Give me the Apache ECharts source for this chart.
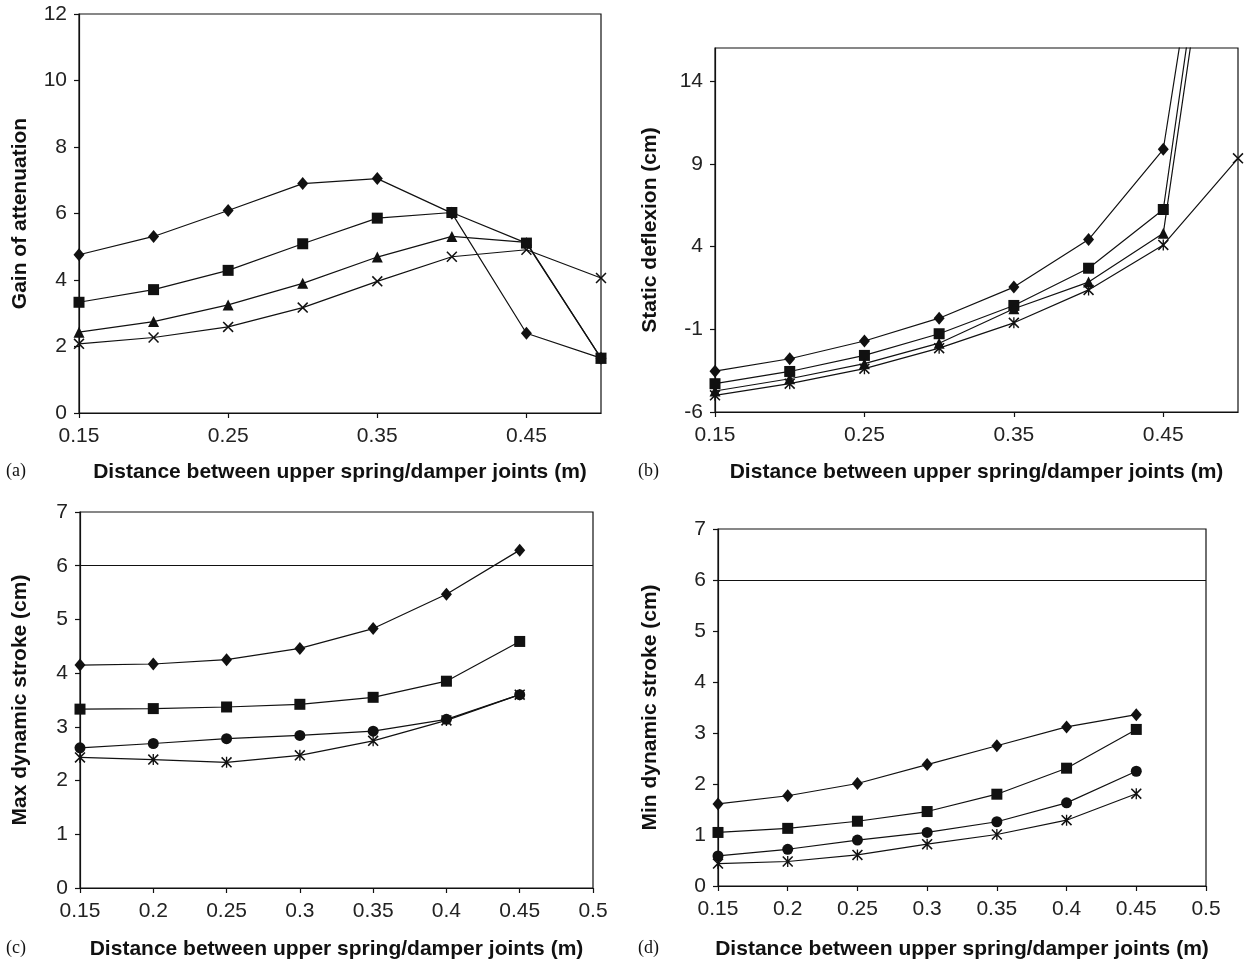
<!DOCTYPE html>
<html>
<head>
<meta charset="utf-8">
<script src="https://cdn.jsdelivr.net/npm/echarts@6/dist/echarts.min.js"></script>
<style>
  html, body { margin: 0; padding: 0; background: #fff; }
  #chart { width: 1253px; height: 964px; }
</style>
</head>
<body>
<div id="chart"></div>
<script>
// x positions (m), shared by all four panels
const xCats = ['0.15', '0.2', '0.25', '0.3', '0.35', '0.4', '0.45', '0.5'];

// (a) gain of attenuation
const gainDiamond = [4.76, 5.31, 6.09, 6.90, 7.05, 6.01, 2.40, 1.65];
const gainSquare = [3.33, 3.71, 4.29, 5.09, 5.86, 6.03, 5.11, 1.65];
const gainTriangle = [2.43, 2.75, 3.25, 3.90, 4.69, 5.31, 5.13, 1.65];
const gainCross = [2.08, 2.27, 2.59, 3.17, 3.96, 4.70, 4.91, 4.06];

// (b) static deflexion (cm), last points run off the top
const deflDiamond = [-3.53, -2.78, -1.71, -0.33, 1.55, 4.42, 9.88, 38.5];
const deflSquare = [-4.29, -3.55, -2.58, -1.27, 0.44, 2.69, 6.24, 37.9];
const deflTriangle = [-4.73, -3.99, -3.08, -1.84, 0.24, 1.85, 4.80, 35.8];
const deflStar = [-4.99, -4.29, -3.38, -2.14, -0.61, 1.38, 4.10, 9.33];

// (c) max dynamic stroke (cm)
const maxDiamond = [4.15, 4.17, 4.25, 4.46, 4.83, 5.47, 6.29];
const maxSquare = [3.33, 3.34, 3.37, 3.42, 3.55, 3.85, 4.59];
const maxCircle = [2.61, 2.69, 2.78, 2.84, 2.92, 3.14, 3.60];
const maxStar = [2.43, 2.39, 2.34, 2.47, 2.74, 3.12, 3.60];

// (d) min dynamic stroke (cm)
const minDiamond = [1.61, 1.77, 2.01, 2.38, 2.75, 3.12, 3.36];
const minSquare = [1.05, 1.13, 1.27, 1.46, 1.80, 2.31, 3.07];
const minCircle = [0.59, 0.72, 0.90, 1.05, 1.26, 1.63, 2.25];
const minStar = [0.44, 0.48, 0.61, 0.82, 1.01, 1.29, 1.81];

const strokeLimit = 6;

const xTitle = 'Distance between upper spring/damper joints (m)';
const ink = '#111';
const sansFont = '"Liberation Sans", Arial, sans-serif';

const crossPath = 'path://M0,1L1,0L5,4L9,0L10,1L6,5L10,9L9,10L5,6L1,10L0,9L4,5Z';
const starPath = 'path://M0,1L1,0L5,4L9,0L10,1L6,5L10,9L9,10L5,6L1,10L0,9L4,5Z M4.4,0L5.6,0L5.6,10L4.4,10Z';

function makeGrid(left, top, width, height) {
  return { left, top, width, height, show: true, borderColor: ink, borderWidth: 1.2, containLabel: false };
}

function makeX(idx, skip, gap) {
  return {
    type: 'category',
    gridIndex: idx,
    data: xCats,
    boundaryGap: false,
    name: xTitle,
    nameLocation: 'middle',
    nameGap: gap,
    nameTextStyle: { fontFamily: sansFont, fontWeight: 'bold', fontSize: 21, color: ink },
    axisLine: { onZero: false, lineStyle: { color: ink, width: 1.2 } },
    axisTick: { show: true, interval: skip, length: 5, lineStyle: { color: ink, width: 1.2 } },
    axisLabel: { interval: skip, margin: 13, fontFamily: sansFont, fontSize: 21, color: '#222' },
    splitLine: { show: false }
  };
}

function makeY(idx, name, min, max, step, gap) {
  return {
    type: 'value',
    gridIndex: idx,
    min, max, interval: step,
    name,
    nameLocation: 'middle',
    nameGap: gap,
    nameTextStyle: { fontFamily: sansFont, fontWeight: 'bold', fontSize: 21, color: ink },
    axisLine: { show: true, onZero: false, lineStyle: { color: ink, width: 1.2 } },
    axisTick: { show: true, length: 5, lineStyle: { color: ink, width: 1.2 } },
    axisLabel: { margin: 12, fontFamily: sansFont, fontSize: 21, color: '#222', showMaxLabel: (max - min) % step === 0 },
    splitLine: { show: false }
  };
}

function lineSeries(idx, data, symbol, size) {
  return {
    type: 'line',
    xAxisIndex: idx,
    yAxisIndex: idx,
    data,
    symbol,
    symbolSize: size,
    showAllSymbol: true,
    clip: true,
    lineStyle: { color: ink, width: 1.2 },
    itemStyle: { color: ink },
    emphasis: { disabled: true },
    animation: false
  };
}

function limitLine() {
  return {
    silent: true,
    symbol: 'none',
    label: { show: false },
    lineStyle: { color: ink, width: 1.2, type: 'solid' },
    data: [{ yAxis: strokeLimit }]
  };
}

// (b) lowest curve ends with a plain cross at 0.5
const deflStarData = deflStar.map((v, i) => i === deflStar.length - 1 ? { value: v, symbol: crossPath, symbolSize: 11 } : v);

const maxDiamondSeries = lineSeries(2, maxDiamond, 'diamond', [11, 13]);
maxDiamondSeries.markLine = limitLine();
const minDiamondSeries = lineSeries(3, minDiamond, 'diamond', [11, 13]);
minDiamondSeries.markLine = limitLine();

function panelLabel(text, left, top) {
  return {
    type: 'text', left, top,
    style: { text, fontFamily: '"Liberation Serif", "Times New Roman", serif', fontSize: 18, fill: ink }
  };
}

const chart = echarts.init(document.getElementById('chart'), null, { renderer: 'canvas' });
chart.setOption({
  backgroundColor: '#fff',
  animation: false,
  grid: [
    makeGrid(79, 14, 522, 399),
    makeGrid(715, 48, 523, 364),
    makeGrid(80, 512, 513, 376),
    makeGrid(718, 529, 488, 357)
  ],
  xAxis: [
    makeX(0, 1, 49),
    makeX(1, 1, 50),
    makeX(2, 0, 51),
    makeX(3, 0, 53)
  ],
  yAxis: [
    makeY(0, 'Gain of attenuation', 0, 12, 2, 48),
    makeY(1, 'Static deflexion (cm)', -6, 16, 5, 54),
    makeY(2, 'Max dynamic stroke (cm)', 0, 7, 1, 49),
    makeY(3, 'Min dynamic stroke (cm)', 0, 7, 1, 57)
  ],
  series: [
    lineSeries(0, gainDiamond, 'diamond', [11, 13]),
    lineSeries(0, gainSquare, 'rect', 11),
    lineSeries(0, gainTriangle, 'triangle', 11),
    lineSeries(0, gainCross, crossPath, 11),

    lineSeries(1, deflDiamond, 'diamond', [11, 13]),
    lineSeries(1, deflSquare, 'rect', 11),
    lineSeries(1, deflTriangle, 'triangle', 11),
    lineSeries(1, deflStarData, starPath, 11),

    maxDiamondSeries,
    lineSeries(2, maxSquare, 'rect', 11),
    lineSeries(2, maxCircle, 'circle', 11),
    lineSeries(2, maxStar, starPath, 11),

    minDiamondSeries,
    lineSeries(3, minSquare, 'rect', 11),
    lineSeries(3, minCircle, 'circle', 11),
    lineSeries(3, minStar, starPath, 11)
  ],
  graphic: [
    panelLabel('(a)', 6, 462),
    panelLabel('(b)', 638, 462),
    panelLabel('(c)', 6, 939),
    panelLabel('(d)', 638, 939)
  ]
});
</script>
</body>
</html>
